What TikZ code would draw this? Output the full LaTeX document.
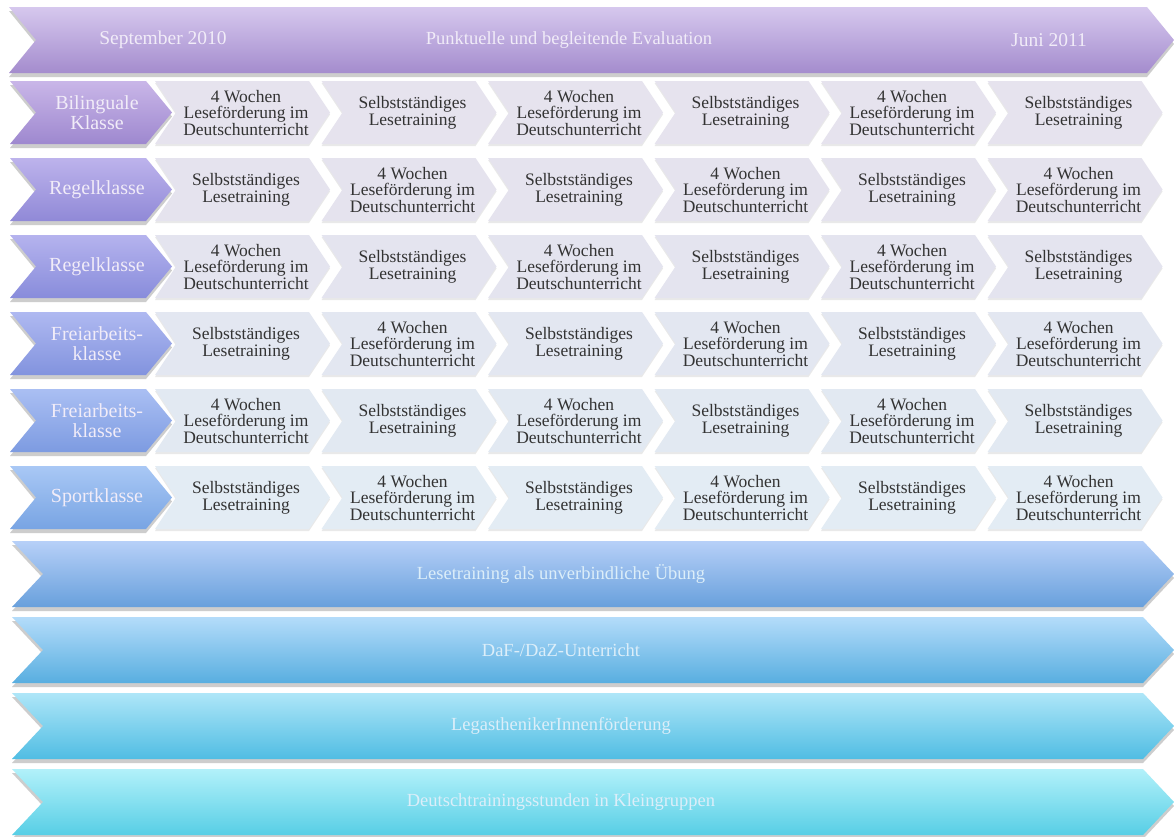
\documentclass[tikz,border=0pt]{standalone}
\usepackage{fontspec}
\setmainfont{Liberation Serif}
\usepackage{xcolor}
\usetikzlibrary{shadows}

\definecolor{toptop}{HTML}{D6C8EE}
\definecolor{topbot}{HTML}{A48CCD}
\definecolor{labtop1}{HTML}{C9B6E8}
\definecolor{labbot1}{HTML}{9E88CF}
\definecolor{labtop2}{HTML}{BDB3EC}
\definecolor{labbot2}{HTML}{9089D7}
\definecolor{labtop3}{HTML}{B5B3EE}
\definecolor{labbot3}{HTML}{888CDB}
\definecolor{labtop4}{HTML}{AFB9F1}
\definecolor{labbot4}{HTML}{8293DE}
\definecolor{labtop5}{HTML}{AABFF3}
\definecolor{labbot5}{HTML}{7D9BE1}
\definecolor{labtop6}{HTML}{A9C8F5}
\definecolor{labbot6}{HTML}{78A4E3}
\definecolor{chevfill1}{HTML}{E6E3EE}
\definecolor{chevfill2}{HTML}{E5E3EE}
\definecolor{chevfill3}{HTML}{E4E4EF}
\definecolor{chevfill4}{HTML}{E3E7F1}
\definecolor{chevfill5}{HTML}{E2E9F2}
\definecolor{chevfill6}{HTML}{E3ECF4}
\definecolor{bartop1}{HTML}{B7D0F8}
\definecolor{barbot1}{HTML}{68A0DC}
\definecolor{bartop2}{HTML}{B4DCFA}
\definecolor{barbot2}{HTML}{58AEE0}
\definecolor{bartop3}{HTML}{AEE6F8}
\definecolor{barbot3}{HTML}{50BDE3}
\definecolor{bartop4}{HTML}{B2F1FA}
\definecolor{barbot4}{HTML}{57CEE5}
\definecolor{txtgray}{HTML}{333333}
\definecolor{labwhite}{HTML}{F1ECF8}
\definecolor{barwhite}{HTML}{DCEEF9}

% chevron: style, left, top, width, height, depth
\newcommand{\chevron}[6]{%
  \path[#1] (#2,#3) -- ++(#4-#6,0) -- ++(#6,#5/2) -- ++(-#6,#5/2)
    -- ++(-#4+#6,0) -- ++(#6,-#5/2) -- cycle;}
\newcommand{\wochen}{4 Wochen\\Leseförderung im\\Deutschunterricht}
\newcommand{\selbst}{Selbstständiges\\Lesetraining}

\tikzset{bigshadow/.style={drop shadow={shadow xshift=0pt, shadow yshift=-4pt,
  opacity=.28, fill=black!70}}}
\tikzset{smallshadow/.style={drop shadow={shadow xshift=0pt, shadow yshift=-2pt,
  opacity=.12, fill=black!70}}}
\tikzset{graytxt/.style={align=center, text=txtgray,
  font=\fontsize{17.5}{16.5}\selectfont}}
\tikzset{labtxt/.style={align=center, text=labwhite,
  font=\fontsize{20}{20}\selectfont}}
\tikzset{bartxt/.style={text=barwhite, font=\fontsize{18.5}{20}\selectfont}}

\begin{document}
\begin{tikzpicture}[x=1pt, y=-1pt]
\useasboundingbox[fill=white] (0,0) rectangle (1174,836);

% time line
\chevron{bigshadow, top color=toptop, bottom color=topbot}{9}{7}{1165}{66}{27}
\node[labtxt, font=\fontsize{19.5}{21}\selectfont] (sept) at (163,40) {September 2010};
\node[labtxt, font=\fontsize{18.5}{21}\selectfont] (eval) at (569,40) {Punktuelle und begleitende Evaluation};
\node[labtxt, font=\fontsize{19.5}{21}\selectfont] (juni) at (1049,40) {Juni 2011};

% classes
\foreach \r/\lab in {1/{Bilinguale\\Klasse}, 2/Regelklasse, 3/Regelklasse,
    4/{Freiarbeits-\\klasse}, 5/{Freiarbeits-\\klasse}, 6/Sportklasse}{
  \pgfmathsetmacro\chy{81+77*(\r-1)}
  \foreach \c in {0,...,5}{
    \pgfmathsetmacro\chx{155+166.5*\c}
    \chevron{smallshadow, fill=chevfill\r}{\chx}{\chy}{175}{63}{21}
    \pgfmathtruncatemacro\k{mod(\r+\c,2)}
    \ifnum\k=1
      \node[graytxt] (c\r\c) at (\chx+91,\chy+32) {\wochen};
    \else
      \node[graytxt] (c\r\c) at (\chx+91,\chy+32) {\selbst};
    \fi
  }
  \chevron{bigshadow, top color=labtop\r, bottom color=labbot\r}{10}{\chy}{162}{63}{26}
  \node[labtxt] (lab\r) at (97,\chy+31.5) {\lab};
}

% offers
\chevron{bigshadow, top color=bartop1, bottom color=barbot1}{12}{541}{1162}{66}{31}
\node[bartxt] (bar1) at (561,574) {Lesetraining als unverbindliche Übung};
\chevron{bigshadow, top color=bartop2, bottom color=barbot2}{12}{617}{1162}{66}{31}
\node[bartxt] (bar2) at (561,650) {DaF-/DaZ-Unterricht};
\chevron{bigshadow, top color=bartop3, bottom color=barbot3}{12}{693}{1162}{66}{31}
\node[bartxt] (bar3) at (561,726) {LegasthenikerInnenförderung};
\chevron{bigshadow, top color=bartop4, bottom color=barbot4}{12}{769}{1162}{66}{31}
\node[bartxt] (bar4) at (561,802) {Deutschtrainingsstunden in Kleingruppen};

\end{tikzpicture}
\end{document}
